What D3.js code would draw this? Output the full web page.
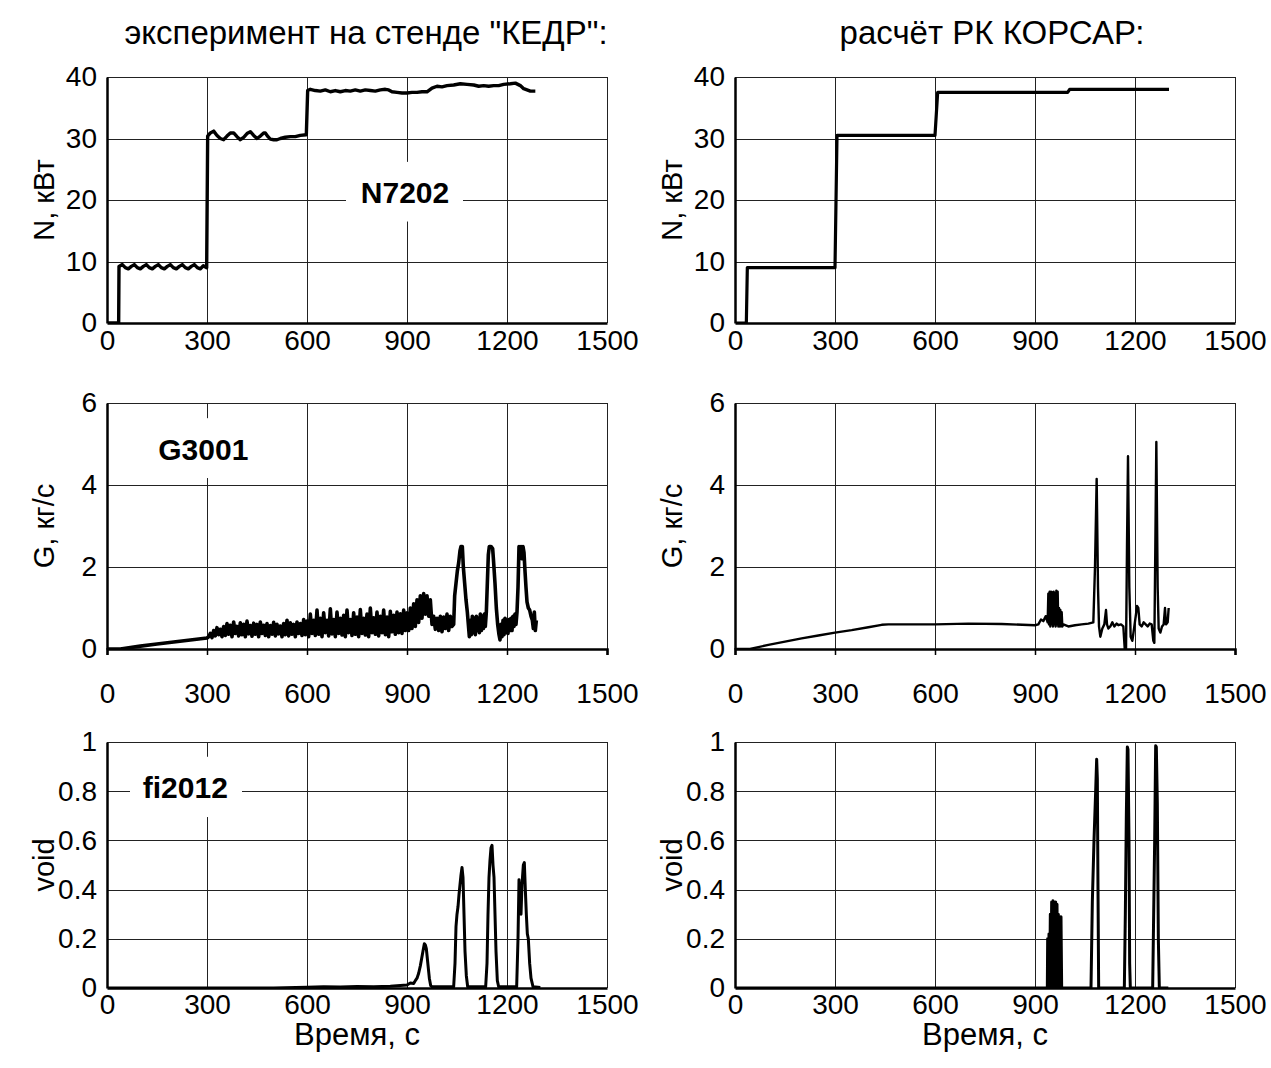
<!DOCTYPE html>
<html><head><meta charset="utf-8">
<script src="https://cdn.jsdelivr.net/npm/d3@7"></script>
<style>
html,body{margin:0;padding:0;background:#fff;}
text{font-family:"Liberation Sans",Arial,sans-serif;fill:#000;}
</style></head>
<body>
<svg id="chart" width="1271" height="1068"></svg>
<script>
// ---------------- DATA ----------------
const titles = ['эксперимент на стенде "КЕДР":', 'расчёт РК КОРСАР:'];
const xTicks = [0, 300, 600, 900, 1200, 1500];
const nTicks = [0, 10, 20, 30, 40];
const gTicks = [0, 2, 4, 6];
const vTicks = [0, 0.2, 0.4, 0.6, 0.8, 1];
const vTickLabels = ["0", "0.2", "0.4", "0.6", "0.8", "1"];
const yTitles = ["N, кВт", "G, кг/с", "void"];
const xTitle = "Время, с";
const labels = ["N7202", "G3001", "fi2012"];
// label anchor [time, value] and box extent [t0, t1, v0, v1]
const labelAnchors = [[894, 21.3], [289, 4.88], [235, 0.816]];
const labelBoxes = [[717, 1068, 16.5, 26.2], [140, 440, 4.17, 5.63], [69, 405, 0.695, 0.94]];

// N, experiment
const nExp = [[0,0],[35,0],[36,9.2],[46,9.5],[55,9.0],[64,8.8],[73,9.2],[82,9.5],[91,9.0],[100,8.8],[109,9.2],[118,9.5],[127,9.0],[136,8.8],[145,9.2],[154,9.5],[163,9.0],[172,8.8],[181,9.2],[190,9.5],[199,9.0],[208,8.8],[217,9.2],[226,9.5],[235,9.0],[244,8.8],[253,9.2],[262,9.5],[271,9.0],[280,8.8],[289,9.3],[299,9.0],
  [302,30.4],[310,30.9],[320,31.2],[330,30.5],[340,30.0],[350,29.8],[360,30.4],[370,30.9],[380,30.9],[390,30.3],[400,29.8],[410,30.2],[420,30.8],[430,31.1],[440,30.5],[450,30.0],[460,30.4],[470,30.9],[475,30.9],[483,30.3],[490,29.9],[500,29.8],[510,29.8],[520,30.0],[535,30.2],[550,30.3],[565,30.3],[580,30.5],[598,30.6],
  [602,37.8],[610,38.0],[625,37.8],[640,37.7],[655,37.9],[670,37.6],[685,37.8],[700,37.6],[715,37.8],[730,37.7],[745,37.9],[760,37.7],[775,37.9],[790,37.8],[805,37.7],[820,37.9],[835,38.0],[845,37.9],[855,37.6],[870,37.5],[885,37.4],[900,37.4],[915,37.5],[930,37.5],[945,37.6],[960,37.6],[975,38.2],[990,38.5],[1005,38.4],[1020,38.6],[1040,38.7],[1060,38.9],[1080,38.8],[1100,38.7],[1115,38.5],[1130,38.6],[1145,38.5],[1160,38.6],[1175,38.6],[1190,38.8],[1210,38.9],[1225,39.0],[1240,38.6],[1250,38.1],[1260,37.9],[1270,37.7],[1285,37.7]];

// N, computed
const nCalc = [[0,0],[34,0],[37,9.0],[300,9.0],[306,30.5],[600,30.5],[608,37.5],[998,37.5],[1004,38.0],[1302,38.0]];

// G, experiment: slow rise, then dense noisy record sampled every 5 s, then peak region
const gExpRise = [[0,0],[40,0],[100,0.07],[150,0.12],[200,0.17],[250,0.22],[300,0.27]];
const gExpNoiseStart = 305, gExpNoiseStep = 5;
const gExpNoise = [
  0.30,0.38,0.28,0.45,0.32,0.52,0.35,0.48,0.30,0.55,
  0.33,0.62,0.36,0.58,0.30,0.66,0.38,0.55,0.32,0.64,
  0.35,0.60,0.30,0.68,0.37,0.57,0.31,0.63,0.36,0.60,
  0.30,0.66,0.38,0.58,0.33,0.62,0.30,0.57,0.36,0.65,
  0.32,0.60,0.37,0.56,0.30,0.62,0.35,0.70,0.32,0.64,
  0.36,0.60,0.30,0.66,0.38,0.62,0.33,0.72,0.35,0.68,
  0.30,0.85,0.38,0.70,0.33,0.95,0.36,0.75,0.30,0.88,
  0.40,0.70,0.32,0.98,0.37,0.72,0.30,0.90,0.38,0.75,
  0.34,0.82,0.30,0.95,0.40,0.72,0.33,0.88,0.36,0.78,
  0.30,0.96,0.38,0.75,0.34,0.85,0.30,1.00,0.40,0.76,
  0.36,0.90,0.32,0.80,0.40,0.95,0.35,0.78,0.30,0.92,
  0.42,0.82,0.36,0.90,0.40,0.86,0.38,0.95,0.45,0.88,
  0.45,1.00,0.50,1.10,0.55,1.20,0.65,1.30,0.75,1.35,
  0.85,1.30,0.80,1.20,0.60,0.80,0.48,0.75,0.45,0.80,
  0.42,0.78,0.50,0.85,0.45,0.80,0.55];
const gExpPeaks = [[1040,0.6],[1043,1.3],[1047,1.6],[1051,1.9],[1055,2.1],[1059,2.4],[1062,2.5],[1066,2.5],[1069,2.0],[1073,1.6],[1077,1.2],[1081,0.9],[1084,0.6],[1087,0.3],[1090,0.7],[1093,0.35],[1096,0.8],[1099,0.4],[1102,0.75],[1105,0.35],[1108,0.8],[1111,0.45],[1114,0.75],[1117,0.4],[1120,0.85],[1123,0.45],[1126,0.8],[1129,0.5],[1132,0.85],[1135,0.55],[1138,0.9],[1141,1.6],[1144,2.3],[1147,2.5],[1152,2.5],[1157,2.45],[1160,2.1],[1164,1.6],[1168,1.0],[1172,0.6],[1176,0.35],[1179,0.22],[1182,0.6],[1185,0.3],[1188,0.7],[1191,0.35],[1194,0.75],[1197,0.4],[1200,0.7],[1203,0.38],[1206,0.72],[1209,0.45],[1212,0.75],[1215,0.45],[1218,0.8],[1221,0.55],[1224,0.85],[1227,0.6],[1230,0.9],[1233,1.5],[1236,2.5],[1239,2.3],[1242,2.5],[1245,2.2],[1248,2.5],[1251,2.35],[1254,1.9],[1257,1.5],[1260,1.15],[1264,1.0],[1268,0.95],[1272,0.8],[1276,0.7],[1279,0.5],[1282,0.9],[1285,0.45],[1288,0.7]];

// G, computed
const gCalc = [[0,0],[45,0],[100,0.1],[150,0.18],[200,0.26],[250,0.33],[300,0.4],[350,0.46],[400,0.53],[440,0.59],[460,0.6],[600,0.6],[700,0.62],[800,0.61],[900,0.58],[910,0.6],[918,0.72],[925,0.68],[932,0.8],[938,0.65],
  [940,1.35],[942,0.6],[944,1.4],[946,0.55],[948,1.4],[950,0.6],[952,1.38],[954,0.55],[956,1.4],[958,0.6],[960,1.35],[962,0.55],[964,1.42],[966,0.6],[968,1.4],[970,0.55],[972,1.0],[974,0.55],[976,0.95],[978,0.55],[980,0.9],[982,0.55],[985,0.6],
  [1000,0.55],[1020,0.58],[1040,0.6],[1060,0.62],[1075,0.65],[1080,2.0],[1085,4.15],[1089,1.5],[1092,0.55],[1096,0.3],[1102,0.5],[1108,0.6],[1113,0.95],[1116,0.6],[1120,0.5],[1126,0.55],[1132,0.65],[1138,0.55],[1145,0.62],[1150,0.58],[1158,0.6],[1165,0.55],[1170,-0.1],[1173,-0.1],[1176,2.5],[1179,4.7],[1183,1.5],[1187,0.3],[1192,0.2],[1198,0.55],[1203,0.85],[1206,1.05],[1210,1.0],[1214,0.6],[1220,0.55],[1226,0.65],[1232,0.6],[1238,0.55],[1244,0.62],[1250,0.6],[1255,0.2],[1258,0.15],[1261,2.5],[1264,5.05],[1268,1.5],[1271,0.5],[1276,0.4],[1281,0.55],[1286,0.6],[1290,1.0],[1293,0.6],[1298,0.65],[1301,1.0]];

// void, experiment
const vExp = [[0,0],[500,0],[600,0.003],[650,0.005],[700,0.004],[750,0.006],[800,0.005],[850,0.007],[880,0.01],[900,0.012],[910,0.02],[920,0.018],[925,0.03],[930,0.04],[935,0.06],[940,0.09],[944,0.12],[948,0.15],[952,0.18],[955,0.175],[958,0.16],[961,0.12],[964,0.08],[967,0.04],[971,0.01],[975,0.005],
  [1040,0.005],[1044,0.1],[1047,0.25],[1050,0.3],[1053,0.33],[1056,0.38],[1059,0.42],[1062,0.46],[1065,0.49],[1068,0.45],[1071,0.3],[1074,0.15],[1078,0.05],[1082,0.005],
  [1136,0.005],[1140,0.1],[1143,0.3],[1146,0.45],[1149,0.52],[1152,0.57],[1155,0.58],[1158,0.5],[1161,0.45],[1164,0.3],[1167,0.15],[1171,0.03],[1175,0.005],
  [1229,0.005],[1233,0.2],[1236,0.44],[1239,0.35],[1242,0.3],[1245,0.42],[1249,0.5],[1252,0.51],[1255,0.4],[1258,0.3],[1261,0.22],[1264,0.2],[1268,0.1],[1272,0.04],[1278,0.005],[1300,0.002]];

// void, computed
const vCalc = [[0,0],[937,0],[938,0.2],[940,0.0],[942,0.22],[944,0.0],[946,0.3],[948,0.0],[950,0.35],[952,0.0],[954,0.355],[956,0.0],[958,0.35],[960,0.0],[962,0.35],[964,0.0],[966,0.34],[968,0.0],[970,0.3],[972,0.0],[974,0.29],[976,0.0],[978,0.29],[980,0],
  [1068,0],[1072,0.35],[1077,0.6],[1082,0.8],[1085,0.93],[1087,0.85],[1089,0.4],[1091,0],
  [1168,0],[1171,0.3],[1174,0.7],[1177,0.98],[1179,0.97],[1182,0.6],[1184,0.1],[1186,0],
  [1253,0],[1256,0.3],[1259,0.6],[1262,0.985],[1264,0.98],[1267,0.75],[1270,0.2],[1273,0],[1300,0]];

// ---------------- BUILD ----------------
const gExp = gExpRise
  .concat(gExpNoise.map((v, i) => [gExpNoiseStart + i * gExpNoiseStep, v]))
  .concat(gExpPeaks);

const svg = d3.select("#chart");
const W = 500, H = 246;
const colX = [107, 735];
const rowY = [77, 403, 742];
const tickLabelGap = [27, 54, 26];
const FS = 28;
const FONT = "Liberation Sans, Arial, sans-serif";

const panels = [
  {c:0, r:0, data:nExp, dom:[0,40], ticks:nTicks, fmt:d=>d, lw:3.4, label:0, outTicks:false},
  {c:1, r:0, data:nCalc, dom:[0,40], ticks:nTicks, fmt:d=>d, lw:3.2, label:null, outTicks:false},
  {c:0, r:1, data:gExp, dom:[0,6], ticks:gTicks, fmt:d=>d, lw:3.6, label:1, outTicks:true},
  {c:1, r:1, data:gCalc, dom:[0,6], ticks:gTicks, fmt:d=>d, lw:2.4, label:null, outTicks:true},
  {c:0, r:2, data:vExp, dom:[0,1], ticks:vTicks, fmt:(d,i)=>vTickLabels[i], lw:3, label:2, outTicks:false},
  {c:1, r:2, data:vCalc, dom:[0,1], ticks:vTicks, fmt:(d,i)=>vTickLabels[i], lw:3, label:null, outTicks:false}
];

panels.forEach((p, pi) => {
  const x0 = colX[p.c], y0 = rowY[p.r];
  const x = d3.scaleLinear().domain([0, 1500]).range([x0, x0 + W]);
  const y = d3.scaleLinear().domain(p.dom).range([y0 + H, y0]);
  const g = svg.append("g");

  const cid = "clip" + pi;
  svg.append("clipPath").attr("id", cid).append("rect")
    .attr("x", x0).attr("y", y0).attr("width", W).attr("height", H);

  // grid
  g.append("g").selectAll("line").data(xTicks.slice(1, -1)).join("line")
    .attr("x1", d => Math.round(x(d)) + 0.5).attr("x2", d => Math.round(x(d)) + 0.5)
    .attr("y1", y0).attr("y2", y0 + H)
    .attr("stroke", "#222").attr("stroke-width", 1);
  g.append("g").selectAll("line").data(p.ticks.slice(1, -1)).join("line")
    .attr("y1", d => Math.round(y(d)) + 0.5).attr("y2", d => Math.round(y(d)) + 0.5)
    .attr("x1", x0).attr("x2", x0 + W)
    .attr("stroke", "#222").attr("stroke-width", 1);

  // frame: top & right thin
  g.append("line").attr("x1", x0).attr("x2", x0 + W).attr("y1", y0 + 0.5).attr("y2", y0 + 0.5).attr("stroke", "#222");
  g.append("line").attr("x1", x0 + W + 0.5).attr("x2", x0 + W + 0.5).attr("y1", y0).attr("y2", y0 + H).attr("stroke", "#222");

  // label box (breaks gridlines)
  if (p.label !== null) {
    const b = labelBoxes[p.label];
    g.append("rect")
      .attr("x", x(b[0])).attr("y", y(b[3]))
      .attr("width", x(b[1]) - x(b[0])).attr("height", y(b[2]) - y(b[3]))
      .attr("fill", "#fff");
    const a = labelAnchors[p.label];
    g.append("text").attr("x", x(a[0])).attr("y", y(a[1]))
      .attr("dy", "0.36em").attr("text-anchor", "middle")
      .attr("font-size", 30).attr("font-weight", "bold")
      .text(labels[p.label]);
  }

  // data line
  const line = d3.line().x(d => x(d[0])).y(d => y(d[1]));
  g.append("path").datum(p.data)
    .attr("clip-path", `url(#${cid})`)
    .attr("d", line).attr("fill", "none").attr("stroke", "#000")
    .attr("stroke-width", p.lw).attr("stroke-linejoin", "round").attr("stroke-linecap", "butt");

  // axes (left & bottom thick)
  const xAxis = d3.axisBottom(x).tickValues(xTicks).tickSize(p.outTicks ? 6 : 0).tickPadding(0).tickFormat(d => d);
  const xa = svg.append("g").attr("transform", `translate(0,${y0 + H})`).call(xAxis);
  xa.select(".domain").attr("stroke", "#000").attr("stroke-width", 2.5);
  xa.selectAll(".tick line").attr("stroke", "#000").attr("stroke-width", 1.5);
  xa.selectAll(".tick text").attr("font-size", FS).attr("font-family", FONT)
    .attr("dy", null).attr("y", tickLabelGap[p.r]).attr("fill", "#000");

  const yAxis = d3.axisLeft(y).tickValues(p.ticks).tickSize(0).tickPadding(10).tickFormat(p.fmt);
  const ya = svg.append("g").attr("transform", `translate(${x0},0)`).call(yAxis);
  ya.select(".domain").attr("stroke", "#000").attr("stroke-width", 2.5);
  ya.selectAll(".tick text").attr("font-size", FS).attr("font-family", FONT).attr("fill", "#000");

  // y title
  svg.append("text")
    .attr("transform", `translate(${x0 - 53},${y0 + H / 2}) rotate(-90)`)
    .attr("text-anchor", "middle").attr("font-size", 29)
    .text(yTitles[p.r]);
});

// titles
const titleCenters = [366, 992];
[0, 1].forEach(c => {
  svg.append("text").attr("x", titleCenters[c]).attr("y", 44)
    .attr("text-anchor", "middle").attr("font-size", 33).text(titles[c]);
  svg.append("text").attr("x", colX[c] + W / 2).attr("y", 1045)
    .attr("text-anchor", "middle").attr("font-size", 31).text(xTitle);
});
</script>
</body></html>
